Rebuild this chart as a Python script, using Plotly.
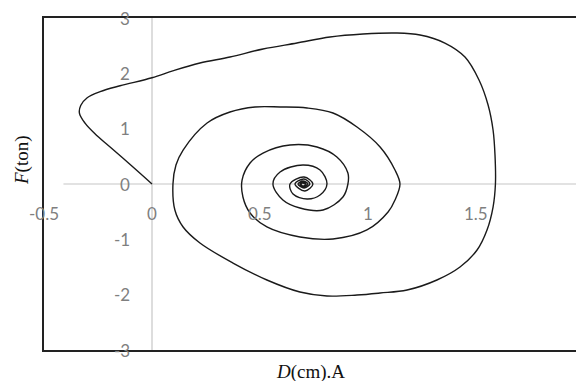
import plotly.graph_objects as go

# Hysteresis-style response: force F (ton) against displacement D (cm), traced as one path
D_cm = [
    0.000, -0.088, -0.194, -0.262, -0.310, -0.336, -0.330, -0.300, -0.240, -0.148,
    0.000, 0.100, 0.222,
    0.361, 0.514, 0.671, 0.824, 0.977, 1.134, 1.241, 1.356, 1.449, 1.514,
    1.556, 1.579, 1.588, 1.590, 1.579, 1.551, 1.505, 1.426, 1.319, 1.181,
    1.056, 0.949, 0.810, 0.685, 0.532, 0.375, 0.222, 0.144, 0.106, 0.097,
    0.111, 0.144, 0.255, 0.361, 0.477, 0.593, 0.718, 0.838, 0.949, 1.056,
    1.125, 1.148, 1.125, 1.093, 0.995, 0.838, 0.685, 0.532, 0.454, 0.421,
    0.417, 0.454, 0.514, 0.639, 0.764, 0.856, 0.907, 0.907, 0.884, 0.792,
    0.685, 0.606, 0.560, 0.593, 0.699, 0.778, 0.810, 0.778, 0.718, 0.653,
    0.639, 0.704, 0.745, 0.708, 0.662, 0.704, 0.731, 0.704, 0.676, 0.699,
    0.722, 0.699, 0.685, 0.699, 0.713, 0.699, 0.690, 0.699, 0.708,
]
F_ton = [
    0.000, 0.307, 0.669, 0.900, 1.100, 1.283, 1.420, 1.560, 1.670, 1.775,
    1.920, 2.050, 2.187,
    2.295, 2.440, 2.548, 2.657, 2.711, 2.729, 2.693, 2.548, 2.295, 1.880,
    1.428, 0.976, 0.524, 0.000, -0.416, -0.831, -1.193, -1.500, -1.735, -1.916,
    -1.970, -2.006, -2.024, -1.952, -1.735, -1.428, -1.066, -0.777, -0.470, 0.000,
    0.343, 0.614, 1.102, 1.301, 1.392, 1.392, 1.374, 1.283, 1.030, 0.669,
    0.253, 0.000, -0.289, -0.506, -0.831, -0.994, -0.958, -0.777, -0.524, -0.235,
    0.072, 0.380, 0.560, 0.705, 0.669, 0.488, 0.199, 0.000, -0.235, -0.470,
    -0.434, -0.289, 0.000, 0.217, 0.343, 0.253, 0.000, -0.199, -0.271, -0.181,
    0.000, 0.127, 0.000, -0.127, 0.000, 0.090, 0.000, -0.072, 0.000, 0.054,
    0.000, -0.054, 0.000, 0.036, 0.000, -0.036, 0.000, 0.018, 0.000,
]

x_ticks = [-0.5, 0, 0.5, 1, 1.5]
x_tick_labels = ["-0.5", "0", "0.5", "1", "1.5"]
y_ticks = [3, 2, 1, 0, -1, -2, -3]
y_tick_labels = ["3", "2", "1", "0", "-1", "-2", "-3"]

x_range = [-0.5, 1.963]
y_range = [-3, 3]

tick_font = dict(family="Lato, Noto Sans, sans-serif", size=17, color="#7f7f7f")
title_font = dict(family="Liberation Serif, Times New Roman, serif", size=19, color="#111111")

fig = go.Figure()
fig.add_trace(go.Scatter(
    x=D_cm, y=F_ton, mode="lines",
    line=dict(color="#1a1a1a", width=1.4, shape="spline", smoothing=1.0),
    showlegend=False, hoverinfo="skip",
))

annotations = []
# x tick labels sit just under the horizontal zero axis
for v, t in zip(x_ticks, x_tick_labels):
    annotations.append(dict(
        x=v, y=0, xref="x", yref="y", text=t, showarrow=False,
        xanchor="center", yanchor="middle", yshift=-29, font=tick_font,
    ))
# y tick labels sit to the left of the vertical zero axis
for v, t in zip(y_ticks, y_tick_labels):
    annotations.append(dict(
        x=0, y=v, xref="x", yref="y", text=t, showarrow=False,
        xanchor="right", yanchor="middle", xshift=-20, font=tick_font,
    ))
# axis titles
annotations.append(dict(
    x=0.5, y=0, xref="paper", yref="paper", text="<i>D</i>(cm).A", showarrow=False,
    xanchor="center", yanchor="top", xshift=0, yshift=-9, font=title_font,
))
annotations.append(dict(
    x=0, y=0.5, xref="paper", yref="paper", text="<i>F</i>(ton)", showarrow=False,
    xanchor="center", yanchor="middle", xshift=-22, yshift=24, textangle=-90, font=title_font,
))

shapes = [
    # horizontal zero axis
    dict(type="line", xref="x", yref="y", x0=-0.41, x1=x_range[1], y0=0, y1=0,
         line=dict(color="#c6c6c6", width=1.2), layer="below"),
    # vertical zero axis
    dict(type="line", xref="x", yref="paper", x0=0, x1=0, y0=0, y1=1,
         line=dict(color="#c6c6c6", width=1.2), layer="below"),
]

fig.update_layout(
    width=576, height=381,
    margin=dict(l=44, r=0, t=18, b=31),
    paper_bgcolor="white", plot_bgcolor="white",
    xaxis=dict(range=x_range, showgrid=False, zeroline=False, showticklabels=False,
               ticks="", showline=True, mirror=True, linecolor="#222222", linewidth=1.5),
    yaxis=dict(range=y_range, showgrid=False, zeroline=False, showticklabels=False,
               ticks="", showline=True, mirror=False, linecolor="#222222", linewidth=1.5),
    annotations=annotations,
    shapes=shapes,
)

fig.write_html("out.html")
